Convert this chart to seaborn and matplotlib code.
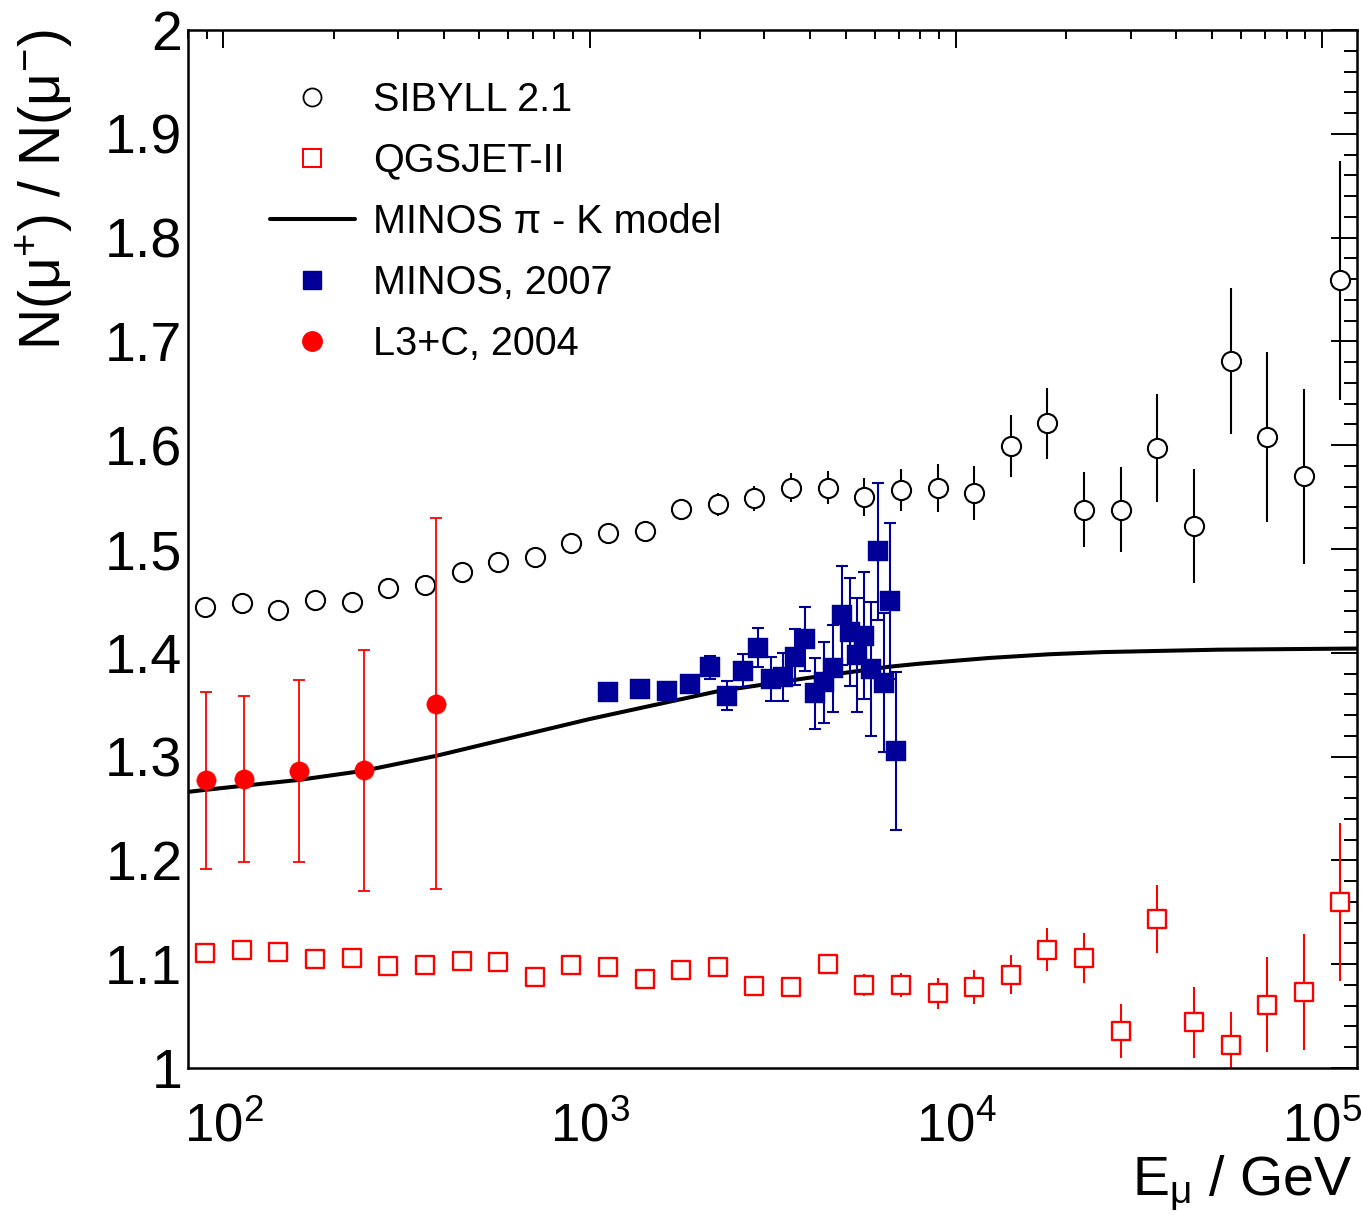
import math
import matplotlib
matplotlib.use("Agg")
import matplotlib.pyplot as plt
import seaborn as sns
import pandas as pd
from matplotlib import font_manager as fm
from matplotlib.ticker import MultipleLocator, LogLocator, NullFormatter, FuncFormatter
from matplotlib.lines import Line2D

# ---- data -------------------------------------------------------------
# energies (GeV) of the simulated muon charge ratios
sim_energy = [89.1, 112.2, 141.3, 177.8, 223.9, 281.8, 354.8, 446.7, 562.3, 707.9,
              891.3, 1122, 1413, 1778, 2239, 2818, 3548, 4467, 5623, 7079,
              8913, 11220, 14125, 17783, 22387, 28184, 35481, 44668, 56234, 70795,
              89125, 112202]

sibyll_ratio = [1.444, 1.448, 1.441, 1.451, 1.449, 1.462, 1.465, 1.478, 1.487, 1.492,
                1.506, 1.515, 1.517, 1.539, 1.543, 1.549, 1.559, 1.559, 1.550, 1.557,
                1.559, 1.554, 1.599, 1.621, 1.538, 1.538, 1.597, 1.522, 1.681, 1.608,
                1.570, 1.759]
sibyll_err = [0.003, 0.003, 0.003, 0.004, 0.004, 0.004, 0.005, 0.005, 0.005, 0.006,
              0.006, 0.007, 0.007, 0.008, 0.011, 0.012, 0.014, 0.016, 0.018, 0.020,
              0.023, 0.026, 0.030, 0.034, 0.036, 0.041, 0.052, 0.055, 0.070, 0.082,
              0.084, 0.115]

qgsjet_ratio = [1.1105, 1.1134, 1.1115, 1.105, 1.106, 1.098, 1.0995, 1.103, 1.102, 1.088,
                1.0995, 1.097, 1.086, 1.094, 1.0976, 1.079, 1.078, 1.1005, 1.080, 1.080,
                1.072, 1.078, 1.090, 1.114, 1.106, 1.036, 1.1435, 1.044, 1.022, 1.061,
                1.073, 1.160]
qgsjet_err = [0.003, 0.003, 0.003, 0.003, 0.004, 0.004, 0.004, 0.004, 0.005, 0.005,
              0.005, 0.006, 0.006, 0.006, 0.007, 0.008, 0.008, 0.009, 0.011, 0.012,
              0.015, 0.016, 0.019, 0.021, 0.024, 0.026, 0.033, 0.034, 0.032, 0.046,
              0.056, 0.076]

minos_energy = [1125, 1375, 1625, 1875, 2125, 2375, 2625, 2875, 3125, 3375, 3625, 3875,
                4125, 4375, 4625, 4875, 5125, 5375, 5625, 5875, 6125, 6375, 6625, 6875]
minos_ratio = [1.3625, 1.3654, 1.3635, 1.3699, 1.386, 1.3587, 1.3828, 1.4049, 1.3748, 1.377,
               1.3963, 1.413, 1.361, 1.3716, 1.385, 1.4361, 1.4197, 1.3979, 1.4165, 1.3844,
               1.498, 1.3712, 1.4499, 1.3057]
minos_err = [0.004, 0.004, 0.005, 0.006, 0.011, 0.014, 0.016, 0.019, 0.021, 0.023,
             0.027, 0.031, 0.034, 0.039, 0.042, 0.048, 0.052, 0.055, 0.061, 0.065,
             0.066, 0.067, 0.075, 0.076]

l3c_energy = [89.7, 114.0, 160.6, 241.6, 380.8]
l3c_ratio = [1.277, 1.278, 1.286, 1.287, 1.351]
l3c_err = [0.085, 0.080, 0.088, 0.116, 0.179]

model_energy = [80, 89.5, 113.8, 160.3, 242.1, 379.3, 576.8, 1000, 2213, 3981, 6577,
                7943, 12300, 18000, 25290, 52000, 124000]
model_ratio = [1.266, 1.268, 1.272, 1.2775, 1.2864, 1.3006, 1.316, 1.3362, 1.3626, 1.376,
               1.3866, 1.3895, 1.3950, 1.3986, 1.4007, 1.4030, 1.4041]

labels = ["SIBYLL 2.1", "QGSJET-II", "MINOS \u03c0 - K model", "MINOS, 2007", "L3+C, 2004"]

BLUE = "#000099"
RED = "#ff0000"


def font_installed(name):
    try:
        fm.findfont(fm.FontProperties(family=name), fallback_to_default=False)
        return True
    except ValueError:
        return False


# condensed face for the energy decade labels when available
if font_installed("Liberation Sans Narrow"):
    XTICK_FONT, XTICK_SIZE, XTICK_PAD = "Liberation Sans Narrow", 44, 22
else:
    XTICK_FONT, XTICK_SIZE, XTICK_PAD = "Liberation Sans", 38, 25

# ---- style ------------------------------------------------------------
sns.set_theme(style="white")
plt.rcParams["font.family"] = ["Liberation Sans", "DejaVu Sans"]
plt.rcParams["mathtext.fontset"] = "custom"
plt.rcParams["mathtext.rm"] = "Liberation Sans"
plt.rcParams["mathtext.it"] = "Liberation Sans:italic"
plt.rcParams["mathtext.bf"] = "Liberation Sans:bold"
plt.rcParams["mathtext.default"] = "regular"
for key in ("text.color", "axes.labelcolor", "xtick.color", "ytick.color",
            "xtick.labelcolor", "ytick.labelcolor"):
    plt.rcParams[key] = "black"

fig = plt.figure(figsize=(13.61, 12.15), dpi=100)
ax = fig.add_axes([188 / 1361, 1 - 1068 / 1215, (1357 - 188) / 1361, (1068 - 30) / 1215])

sib = pd.DataFrame({"E": sim_energy, "R": sibyll_ratio, "dR": sibyll_err})
qgs = pd.DataFrame({"E": sim_energy, "R": qgsjet_ratio, "dR": qgsjet_err})
mns = pd.DataFrame({"E": minos_energy, "R": minos_ratio, "dR": minos_err})
l3c = pd.DataFrame({"E": l3c_energy, "R": l3c_ratio, "dR": l3c_err})
mdl = pd.DataFrame({"E": model_energy, "R": model_ratio})

# error bars
ax.errorbar(sib["E"], sib["R"], yerr=sib["dR"], fmt="none", ecolor="black",
            elinewidth=1.5, capsize=0, zorder=2)
ax.errorbar(qgs["E"], qgs["R"], yerr=qgs["dR"], fmt="none", ecolor=RED,
            elinewidth=1.5, capsize=0, zorder=2)
ax.errorbar(mns["E"], mns["R"], yerr=mns["dR"], fmt="none", ecolor=BLUE,
            elinewidth=1.5, capsize=4.3, capthick=1.5, zorder=4)
ax.errorbar(l3c["E"], l3c["R"], yerr=l3c["dR"], fmt="none", ecolor=RED,
            elinewidth=1.3, capsize=4.3, capthick=1.3, zorder=4)

# model curve
sns.lineplot(data=mdl, x="E", y="R", color="black", linewidth=2.9, ax=ax,
             zorder=3, legend=False, sort=False)

# markers
sns.scatterplot(data=sib, x="E", y="R", marker="o", s=190, facecolor="white",
                edgecolor="black", linewidth=1.5, ax=ax, zorder=3, legend=False)
sns.scatterplot(data=qgs, x="E", y="R", marker="s", s=185, facecolor="white",
                edgecolor=RED, linewidth=1.7, ax=ax, zorder=3, legend=False)
sns.scatterplot(data=mns, x="E", y="R", marker="s", s=190, color=BLUE,
                edgecolor=BLUE, linewidth=0.3, ax=ax, zorder=5, legend=False)
sns.scatterplot(data=l3c, x="E", y="R", marker="o", s=195, color=RED,
                edgecolor=RED, linewidth=0.3, ax=ax, zorder=5, legend=False)

# ---- axes -------------------------------------------------------------
ax.set_xscale("log")
ax.set_xlim(80, 1.245e5)
ax.set_ylim(1.0, 2.0)

ax.yaxis.set_major_locator(MultipleLocator(0.1))
ax.yaxis.set_minor_locator(MultipleLocator(0.02))
ax.yaxis.set_major_formatter(FuncFormatter(
    lambda v, p: f"{v:.1f}".rstrip("0").rstrip(".")))
ax.xaxis.set_major_locator(LogLocator(base=10))
ax.xaxis.set_minor_locator(LogLocator(base=10, subs=range(2, 10)))
ax.xaxis.set_major_formatter(FuncFormatter(
    lambda v, p: f"$10^{{{round(math.log10(v))}}}$"))
ax.xaxis.set_minor_formatter(NullFormatter())

ax.tick_params(axis="both", which="both", direction="in", top=True, right=True,
               color="black", width=1.4, labelcolor="black")
ax.tick_params(axis="y", which="major", length=18.7, labelsize=40, pad=4)
ax.tick_params(axis="y", which="minor", length=9.4)
ax.tick_params(axis="x", which="major", length=13, labelsize=XTICK_SIZE, pad=XTICK_PAD,
               labelfontfamily=XTICK_FONT)
ax.tick_params(axis="x", which="minor", length=6.5)
for sp in ax.spines.values():
    sp.set_linewidth(1.8)
    sp.set_color("black")

ax.set_xlabel("E$_{\u03bc}$ / GeV", fontsize=40, loc="right", color="black")
ax.xaxis.set_label_coords(0.9957, -0.083)
ax.set_ylabel("N(\u03bc$^{+}$) / N(\u03bc$^{-}$)", fontsize=41, loc="top", color="black")
ax.yaxis.set_label_coords(-0.097, 1.0)

# ---- legend -----------------------------------------------------------
handles = [
    Line2D([], [], linestyle="none", marker="o", markersize=13, markerfacecolor="white",
           markeredgecolor="black", markeredgewidth=1.3),
    Line2D([], [], linestyle="none", marker="s", markersize=13, markerfacecolor="white",
           markeredgecolor=RED, markeredgewidth=1.5),
    Line2D([], [], color="black", linewidth=2.9),
    Line2D([], [], linestyle="none", marker="s", markersize=13.5, color=BLUE),
    Line2D([], [], linestyle="none", marker="o", markersize=14, color=RED),
]
leg = ax.legend(handles, labels, loc="upper left", bbox_to_anchor=(0.0701, 0.951),
                frameon=False, fontsize=28.5, borderpad=0, borderaxespad=0,
                handlelength=2.15, handletextpad=0.45, labelspacing=0.58, numpoints=1)
for t in leg.get_texts():
    t.set_color("black")

fig.savefig("out.png", dpi=100)
